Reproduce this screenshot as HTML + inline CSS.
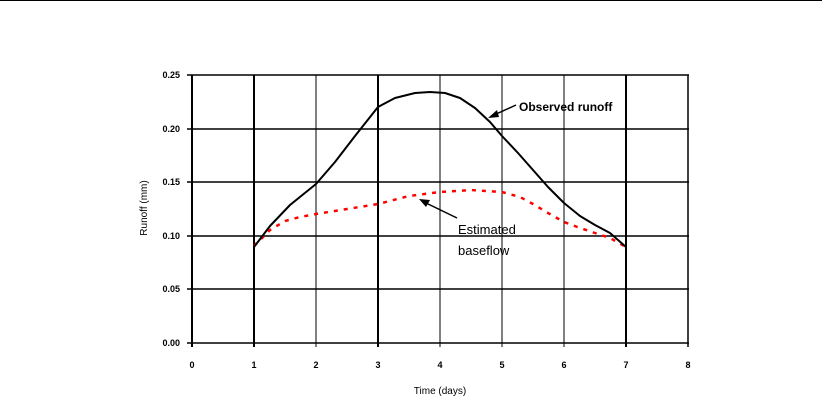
<!DOCTYPE html>
<html><head><style>
html,body{margin:0;padding:0;background:#fff;}
svg{display:block;}
text{font-family:"Liberation Sans",Arial,sans-serif;}
</style></head><body>
<svg width="822" height="410" viewBox="0 0 822 410" xmlns="http://www.w3.org/2000/svg">
<line x1="0" y1="0.5" x2="822" y2="0.5" stroke="#000" stroke-width="1"/>
<g stroke="#000">
<line x1="187" y1="75" x2="689" y2="75" stroke-width="1.5"/>
<line x1="187" y1="129" x2="689" y2="129" stroke-width="1.5"/>
<line x1="187" y1="182" x2="689" y2="182" stroke-width="1.5"/>
<line x1="187" y1="236" x2="689" y2="236" stroke-width="1.5"/>
<line x1="187" y1="289" x2="689" y2="289" stroke-width="1.5"/>
<line x1="187" y1="343" x2="689" y2="343" stroke-width="1.5"/>
<line x1="192" y1="75" x2="192" y2="347" stroke-width="2"/>
<line x1="254" y1="75" x2="254" y2="347" stroke-width="2"/>
<line x1="316" y1="75" x2="316" y2="347" stroke-width="1"/>
<line x1="378" y1="75" x2="378" y2="347" stroke-width="2"/>
<line x1="440" y1="75" x2="440" y2="347" stroke-width="1"/>
<line x1="502" y1="75" x2="502" y2="347" stroke-width="1"/>
<line x1="564" y1="75" x2="564" y2="347" stroke-width="1"/>
<line x1="626" y1="75" x2="626" y2="347" stroke-width="2"/>
<line x1="688" y1="75" x2="688" y2="347" stroke-width="1.5"/>
</g>
<g font-size="9" font-weight="bold" text-anchor="end">
<text x="180" y="78">0.25</text>
<text x="180" y="132">0.20</text>
<text x="180" y="185">0.15</text>
<text x="180" y="239">0.10</text>
<text x="180" y="292">0.05</text>
<text x="180" y="346">0.00</text>
</g>
<g font-size="9" font-weight="bold" text-anchor="middle">
<text x="192" y="368">0</text><text x="254" y="368">1</text><text x="316" y="368">2</text>
<text x="378" y="368">3</text><text x="440" y="368">4</text><text x="502" y="368">5</text>
<text x="564" y="368">6</text><text x="626" y="368">7</text><text x="688" y="368">8</text>
<text x="440" y="394" font-weight="normal" font-size="10">Time (days)</text>
</g>
<text transform="translate(147,208) rotate(-90)" font-size="10" text-anchor="middle">Runoff (mm)</text>
<polyline points="254,246 270,230 285,221 300,217 316,214 347,209 378,204 409,196 440,192 471,190 502,192 520,197 533,204 548,213 564,222 580,228 595,233 610,238 626,247" fill="none" stroke="#f00" stroke-width="2.5" stroke-dasharray="4,6"/>
<polyline points="254,247 270,226 290,205 316,184 335,162 355,136 378,107 395,98 415,93 430,92 445,93 460,98 475,108 490,122 502,136 518,153 533,170 548,187 564,203 580,216 595,225 610,233 626,247" fill="none" stroke="#000" stroke-width="2" stroke-linejoin="round"/>
<text x="519" y="111" font-size="12" font-weight="bold">Observed runoff</text>
<line x1="516" y1="105" x2="494" y2="115" stroke="#000" stroke-width="1.5"/>
<polygon points="488,118 497,110 499,117" fill="#000"/>
<text x="458" y="234" font-size="13">Estimated</text>
<text x="458" y="255" font-size="13">baseflow</text>
<line x1="457" y1="218" x2="426" y2="203" stroke="#000" stroke-width="1.5"/>
<polygon points="419,199 430,200 426,207" fill="#000"/>
</svg>
</body></html>
